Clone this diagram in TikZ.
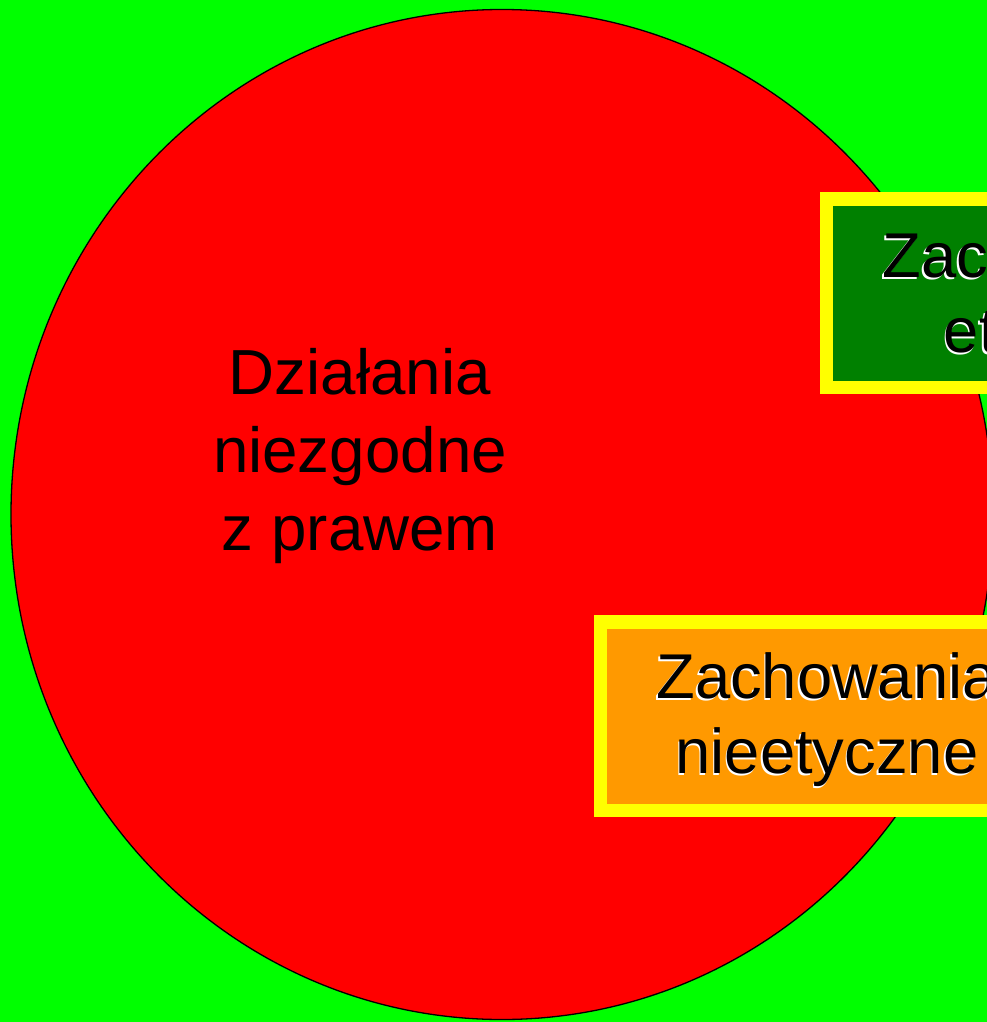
\documentclass[tikz,border=0pt]{standalone}
\usepackage{fontspec}
\setmainfont{Liberation Sans}
\definecolor{bggreen}{HTML}{00FF00}
\definecolor{circred}{HTML}{FF0000}
\definecolor{boxgreen}{HTML}{008000}
\definecolor{boxorange}{HTML}{FF9900}
\definecolor{boxyellow}{HTML}{FFFF00}
\tikzset{
  bigtext/.style={inner sep=0pt, align=center, font=\fontsize{63.7}{78}\selectfont, text=black},
  boxtext/.style={inner sep=0pt, align=center, font=\fontsize{63.3}{75}\selectfont, text=black},
  shadowtext/.style={boxtext, text=white},
  framebox/.style={rectangle, draw=boxyellow, line width=13.5pt, inner sep=0pt,
    minimum width=453pt, minimum height=188.5pt},
}
\begin{document}
\begin{tikzpicture}[x=1pt,y=-1pt]
\useasboundingbox (0,0) rectangle (987,1022);
\clip (0,0) rectangle (987,1022);
\fill[bggreen] (0,0) rectangle (987,1022);
% red ellipse
\draw[fill=circred, draw=black, line width=1.3pt] (502,514.5) ellipse [x radius=491, y radius=505];
\node[bigtext] (law) at (360,456) {Działania\\niezgodne\\z prawem};
% green box
\node[framebox, fill=boxgreen] (gbox) at (1053,293) {};
\node[shadowtext] (gshadow) at (1051.5,300.5) {Zachowania\\etyczne};
\node[boxtext] (gtext) at (1053,299) {Zachowania\\etyczne};
% orange box
\node[framebox, fill=boxorange] (obox) at (827,716) {};
\node[shadowtext] (oshadow) at (825.5,721.5) {Zachowania\\nieetyczne};
\node[boxtext] (otext) at (827,720) {Zachowania\\nieetyczne};
\end{tikzpicture}
\end{document}
